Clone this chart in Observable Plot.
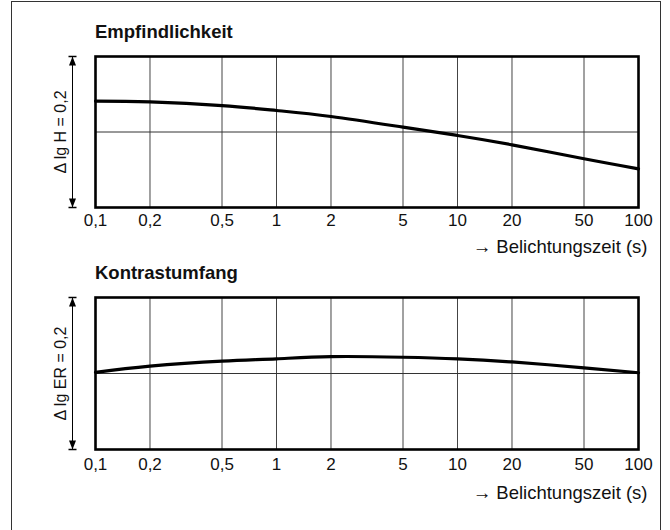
<!DOCTYPE html>
<html>
<head>
<meta charset="utf-8">
<script src="https://cdn.jsdelivr.net/npm/d3@7"></script>
<script src="https://cdn.jsdelivr.net/npm/@observablehq/plot@0.6"></script>
<style>
  html, body { margin: 0; padding: 0; background: white; overflow: hidden; width: 670px; height: 530px; }
  body { position: relative; font-family: "Liberation Sans", Arial, sans-serif; }
  #border { position: absolute; left: 11px; top: 1px; width: 648px; height: 600px; border: 1px solid #333; }
  .title { position: absolute; left: 95px; font-weight: bold; font-size: 18.5px; line-height: 20px; color: #111; }
  .panel { position: absolute; left: 0; }
</style>
</head>
<body>
<div id="border"></div>
<div class="title" style="top:22px">Empfindlichkeit</div>
<div class="panel" id="p1" style="top:40px"></div>
<div class="title" style="top:263px">Kontrastumfang</div>
<div class="panel" id="p2" style="top:281px"></div>
<script>
// Belichtungszeit (s)
const times = [0.1, 0.2, 0.5, 1, 2, 5, 10, 20, 50, 100];
const tickLabels = ["0,1", "0,2", "0,5", "1", "2", "5", "10", "20", "50", "100"];
const gridTimes = [0.2, 0.5, 1, 2, 5, 10, 20, 50];
// Δ lg H (Empfindlichkeit)
const sensitivity = [0.041, 0.040, 0.035, 0.0285, 0.0205, 0.0064, -0.0046, -0.017, -0.0355, -0.0488];
// Δ lg ER (Kontrastumfang)
const contrast = [0.0015, 0.0096, 0.0162, 0.0193, 0.0222, 0.0214, 0.0193, 0.0152, 0.0075, 0.001];
const yRange = [-0.1, 0.1];
const xLabel = "→ Belichtungszeit (s)";

const arrowHead = {
  draw(ctx, size) {
    ctx.moveTo(-4, -0.8); ctx.lineTo(4, -0.8); ctx.lineTo(4, 0.8); ctx.lineTo(-4, 0.8); ctx.closePath();
    ctx.moveTo(0, 0); ctx.lineTo(3.5, 9); ctx.lineTo(-3.5, 9); ctx.closePath();
  }
};

function panel(values, yLabel, tickDy, labelDy, marginBottom) {
  const data = times.map((t, i) => ({t, v: values[i]}));
  return Plot.plot({
    width: 670,
    height: 220,
    marginLeft: 95,
    marginRight: 32,
    marginTop: 16,
    marginBottom: marginBottom,
    style: {fontFamily: "Liberation Sans, Arial, sans-serif", fontSize: "17px", color: "#111", background: "transparent", overflow: "visible"},
    x: {type: "log", domain: [0.1, 100], axis: null},
    y: {domain: yRange, axis: null},
    marks: [
      Plot.ruleX(gridTimes, {stroke: "#444", strokeWidth: 1}),
      Plot.ruleY([0], {stroke: "#333", strokeWidth: 1}),
      Plot.line(data, {x: "t", y: "v", curve: "natural", stroke: "black", strokeWidth: 3.2}),
      Plot.frame({stroke: "black", strokeWidth: 2.6}),
      Plot.text(times, {x: d => d, text: (d, i) => tickLabels[i], frameAnchor: "bottom", lineAnchor: "middle", dy: tickDy, fontSize: 17, fill: "#111"}),
      Plot.ruleX([0.1], {dx: -23, y1: yRange[0], y2: yRange[1], stroke: "black", strokeWidth: 1}),
      Plot.dot([0.1], {x: d => d, y: yRange[1], dx: -23, symbol: arrowHead, r: 4, fill: "black", stroke: null}),
      Plot.dot([0.1], {x: d => d, y: yRange[0], dx: -23, symbol: arrowHead, r: 4, fill: "black", stroke: null, rotate: 180}),
      Plot.text([yLabel], {frameAnchor: "left", textAnchor: "middle", lineAnchor: "middle", rotate: -90, dx: -35, fontSize: 16, fill: "#111"}),
      Plot.text([xLabel], {frameAnchor: "bottom-right", textAnchor: "end", lineAnchor: "middle", dx: 9, dy: labelDy, fontSize: 18.5, fill: "#111"})
    ]
  });
}

document.getElementById("p1").append(panel(sensitivity, "Δ lg H = 0,2", 13, 40, 53));
document.getElementById("p2").append(panel(contrast, "Δ lg ER = 0,2", 15, 44, 52));
</script>
</body>
</html>
